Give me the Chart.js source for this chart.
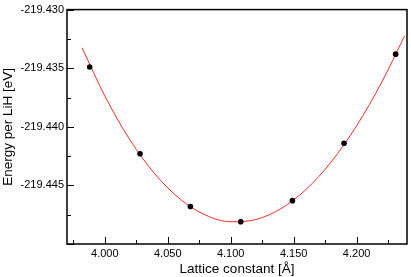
<!DOCTYPE html>
<html>
<head>
<meta charset="utf-8">
<script src="https://cdn.jsdelivr.net/npm/chart.js@4.4.1/dist/chart.umd.min.js"></script>
<style>
    html, body { margin: 0; padding: 0; background: #fff; }
</style>
</head>
<body>
<canvas id="myChart" width="411" height="277"></canvas>
<script>
// measured points
const latticeA = [3.988, 4.028, 4.068, 4.108, 4.149, 4.190, 4.231];
const energyEv = [-219.4349, -219.4423, -219.4468, -219.4481, -219.4463, -219.4414, -219.4338];

// fitted curve
const fitA = [3.982, 4.00, 4.02, 4.04, 4.06, 4.08, 4.10, 4.12, 4.14, 4.16, 4.18, 4.20, 4.22, 4.238];
const fitEv = [-219.43326, -219.43736, -219.44112, -219.44405, -219.44618, -219.44753, -219.44810,
    -219.44791, -219.44698, -219.44533, -219.44297, -219.43991, -219.43618, -219.43226];

// axis ticks
const xTicks = [4.000, 4.050, 4.100, 4.150, 4.200];
const xMinor = [3.975, 4.025, 4.075, 4.125, 4.175, 4.225];
const yTicks = [-219.450, -219.445, -219.440, -219.435, -219.430];
const yMinor = [-219.4475, -219.4425, -219.4375, -219.4325];

Chart.defaults.font.family = "'Liberation Sans', Arial, sans-serif";
Chart.defaults.color = '#000';

// frame around the plot and inward tick marks
const frame = {
    id: 'frame',
    afterDraw(chart) {
        const ctx = chart.ctx;
        const a = chart.chartArea;
        const x = chart.scales.x, y = chart.scales.y;
        ctx.save();
        ctx.strokeStyle = '#000';
        ctx.lineWidth = 1;
        xTicks.forEach(v => tick(ctx, Math.round(x.getPixelForValue(v)) + 0.5, a.bottom, 0, -7));
        xMinor.forEach(v => tick(ctx, Math.round(x.getPixelForValue(v)) + 0.5, a.bottom, 0, -4));
        yTicks.forEach(v => tick(ctx, a.left, Math.round(y.getPixelForValue(v)) + 0.5, 7, 0));
        yMinor.forEach(v => tick(ctx, a.left, Math.round(y.getPixelForValue(v)) + 0.5, 4, 0));
        ctx.lineWidth = 1.5;
        ctx.strokeRect(a.left, a.top, a.right - a.left, a.bottom - a.top);
        ctx.restore();
    }
};

function tick(ctx, px, py, dx, dy) {
    ctx.beginPath();
    ctx.moveTo(px, py);
    ctx.lineTo(px + dx, py + dy);
    ctx.stroke();
}

var ctx = document.getElementById('myChart').getContext('2d');
var myChart = new Chart(ctx, {
    type: 'scatter',
    data: {
        datasets: [{
            label: 'points',
            data: latticeA.map((v, i) => ({ x: v, y: energyEv[i] })),
            backgroundColor: '#000',
            borderWidth: 0,
            pointRadius: 2.8,
            order: 0
        }, {
            label: 'fit',
            data: fitA.map((v, i) => ({ x: v, y: fitEv[i] })),
            showLine: true,
            borderColor: 'rgb(255, 40, 40)',
            borderWidth: 1,
            pointRadius: 0,
            cubicInterpolationMode: 'monotone',
            order: 1
        }]
    },
    options: {
        responsive: false,
        devicePixelRatio: 1,
        animation: false,
        layout: { padding: { top: 5, right: 3, left: 0, bottom: 0 } },
        plugins: {
            legend: { display: false },
            tooltip: { enabled: false }
        },
        scales: {
            x: {
                type: 'linear',
                min: 3.97,
                max: 4.24,
                grid: { display: false, drawTicks: false },
                border: { display: false },
                afterBuildTicks: scale => { scale.ticks = xTicks.map(v => ({ value: v })); },
                afterFit: scale => { scale.height = 33; },
                ticks: {
                    padding: 3,
                    font: { size: 11 },
                    callback: v => v.toFixed(3)
                },
                title: {
                    display: true,
                    text: 'Lattice constant [Å]',
                    font: { size: 13.5 },
                    padding: { top: 0, bottom: 0 }
                }
            },
            y: {
                type: 'linear',
                min: -219.45,
                max: -219.43,
                grid: { display: false, drawTicks: false },
                border: { display: false },
                afterBuildTicks: scale => { scale.ticks = yTicks.slice(1).map(v => ({ value: v })); },
                afterFit: scale => { scale.width = 67; },
                ticks: {
                    padding: 3,
                    font: { size: 11 },
                    callback: v => v.toFixed(3)
                },
                title: {
                    display: true,
                    text: 'Energy per LiH [eV]',
                    font: { size: 13.5 },
                    padding: { top: 0, bottom: 0 }
                }
            }
        }
    },
    plugins: [frame]
});
</script>
</body>
</html>
